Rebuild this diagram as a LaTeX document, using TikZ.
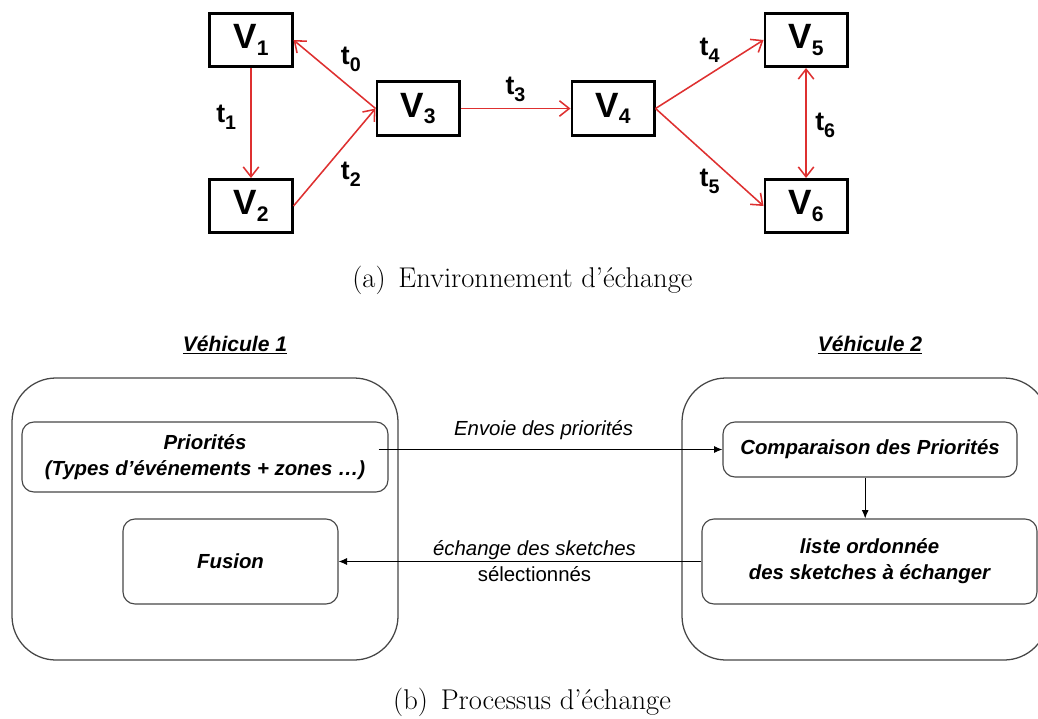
\documentclass[tikz,border=0pt]{standalone}
\usepackage{fontspec}
\newfontfamily\arialfont{Liberation Sans}
\usepackage{tikz}
\usetikzlibrary{%
  shapes, arrows.meta, positioning
}
\usepackage{xcolor}
\definecolor{edgered}{RGB}{222,48,48}
\definecolor{framegray}{RGB}{70,70,70}
\newcommand{\vsub}[1]{\raisebox{-4.5pt}{\fontsize{15}{15}\selectfont #1}}
\newcommand{\tsub}[1]{\raisebox{-5pt}{\fontsize{14}{14}\selectfont #1}}
\tikzstyle{vnode} = [%
  rectangle,
  draw=black,
  line width=2pt,
  minimum width=2.055cm,
  minimum height=1.33cm,
  inner sep=0pt,
  font=\arialfont\bfseries\fontsize{25}{25}\selectfont
]
\tikzstyle{pbox} = [%
  rectangle,
  draw=framegray,
  line width=0.8pt,
  rounded corners=0.3cm,
  align=center,
  inner sep=0pt,
  font=\arialfont\bfseries\itshape\fontsize{14.5}{18.5}\selectfont
]

\begin{document}
\begin{tikzpicture}[%
  redarrow/.style={%
    draw=edgered,
    line width=1.1pt,
    -{Straight Barb[length=7pt,width=11pt]}
  },
  flow/.style={%
    draw=black,
    line width=0.7pt,
    -{Latex[length=6pt,width=5pt]}
  },
  tlabel/.style={font=\arialfont\bfseries\fontsize{19}{19}\selectfont, inner sep=4pt},
  vbox/.style={draw=framegray, line width=0.9pt, rounded corners=1.1cm},
  title/.style={font=\arialfont\bfseries\itshape\fontsize{15}{15}\selectfont},
  caption/.style={font=\fontsize{20.3}{24}\selectfont}
]
  \useasboundingbox (0,0) rectangle (25.95,-17.95);

  % Nodes
  \node[vnode] (V1) at (6.275,-1.0) {V\vsub{1}};
  \node[vnode,below=2.75cm of V1] (V2) {V\vsub{2}};
  \node[vnode,right=2.05cm of V1,yshift=-1.7125cm] (V3) {V\vsub{3}};
  \node[vnode,right=2.75cm of V3] (V4) {V\vsub{4}};
  \node[vnode,right=2.7cm of V4,yshift=1.7125cm] (V5) {V\vsub{5}};
  \node[vnode,below=2.75cm of V5] (V6) {V\vsub{6}};

  % Exchange edges
  \draw[redarrow] (V3.west) to node [tlabel,above right=-3pt and 0pt] {t\tsub{0}} (V1.east);
  \draw[redarrow] (V1.south) to node [tlabel,left=6pt,yshift=4pt] {t\tsub{1}} (V2.north);
  \draw[redarrow] (V2.east) to node [tlabel,below right=-1pt and 0pt] {t\tsub{2}} (V3.west);
  \draw[redarrow] (V3.east) to node [tlabel,above] {t\tsub{3}} (V4.west);
  \draw[redarrow] (V4.east) to node [tlabel,above=4pt] {t\tsub{4}} (V5.west);
  \draw[redarrow] (V4.east) to node [tlabel,below=4pt] {t\tsub{5}} (V6.west);
  \draw[redarrow,{Straight Barb[length=7pt,width=11pt]}-{Straight Barb[length=7pt,width=11pt]}]
    (V5.south) to node [tlabel,right=2pt,yshift=-2pt] {t\tsub{6}} (V6.north);

  \node[caption] (capA) at (13.06,-7.0) {(a)\hspace{0.45em}Environnement d'échange};

  % Vehicles
  \node[title] (title1) at (5.875,-8.625) {\underline{Véhicule 1}};
  \node[title] (title2) at (21.75,-8.625) {\underline{Véhicule 2}};
  \node[vbox,minimum width=9.65cm,minimum height=7.05cm] (veh1) at (5.125,-12.975) {};
  \node[vbox,minimum width=9.15cm,minimum height=7.05cm] (veh2) at (21.625,-12.975) {};

  \node[pbox,minimum width=9.15cm,minimum height=1.75cm] (prio) at (5.125,-11.425)
    {Priorités\\(Types d’événements + zones \dots)};
  \node[pbox,minimum width=5.375cm,minimum height=2.125cm] (fusion) at (5.7625,-14.0375) {Fusion};
  \node[pbox,minimum width=7.35cm,minimum height=1.375cm] (comp) at (21.75,-11.2375)
    {Comparaison des Priorités};
  \node[pbox,minimum width=8.375cm,minimum height=2.125cm] (liste) at (21.7375,-14.0375)
    {liste ordonnée\\des sketches à échanger};

  % Process edges
  \draw[flow] ([xshift=-0.25cm]prio.east |- comp.west) to
    node [pos=0.48,above=3pt,font=\arialfont\itshape\fontsize{14.5}{18}\selectfont] {Envoie des priorités} (comp.west);
  \draw[flow] ([xshift=-0.12cm]comp.south) to ([xshift=-0.12cm]comp.south |- liste.north);
  \draw[flow] (liste.west) to
    node [pos=0.46,align=center,font=\arialfont\fontsize{14.5}{18.5}\selectfont] {\textit{échange des sketches}\\sélectionnés} (fusion.east);

  \node[caption] (capB) at (13.3,-17.55) {(b)\hspace{0.45em}Processus d'échange};

\end{tikzpicture}
\end{document}
